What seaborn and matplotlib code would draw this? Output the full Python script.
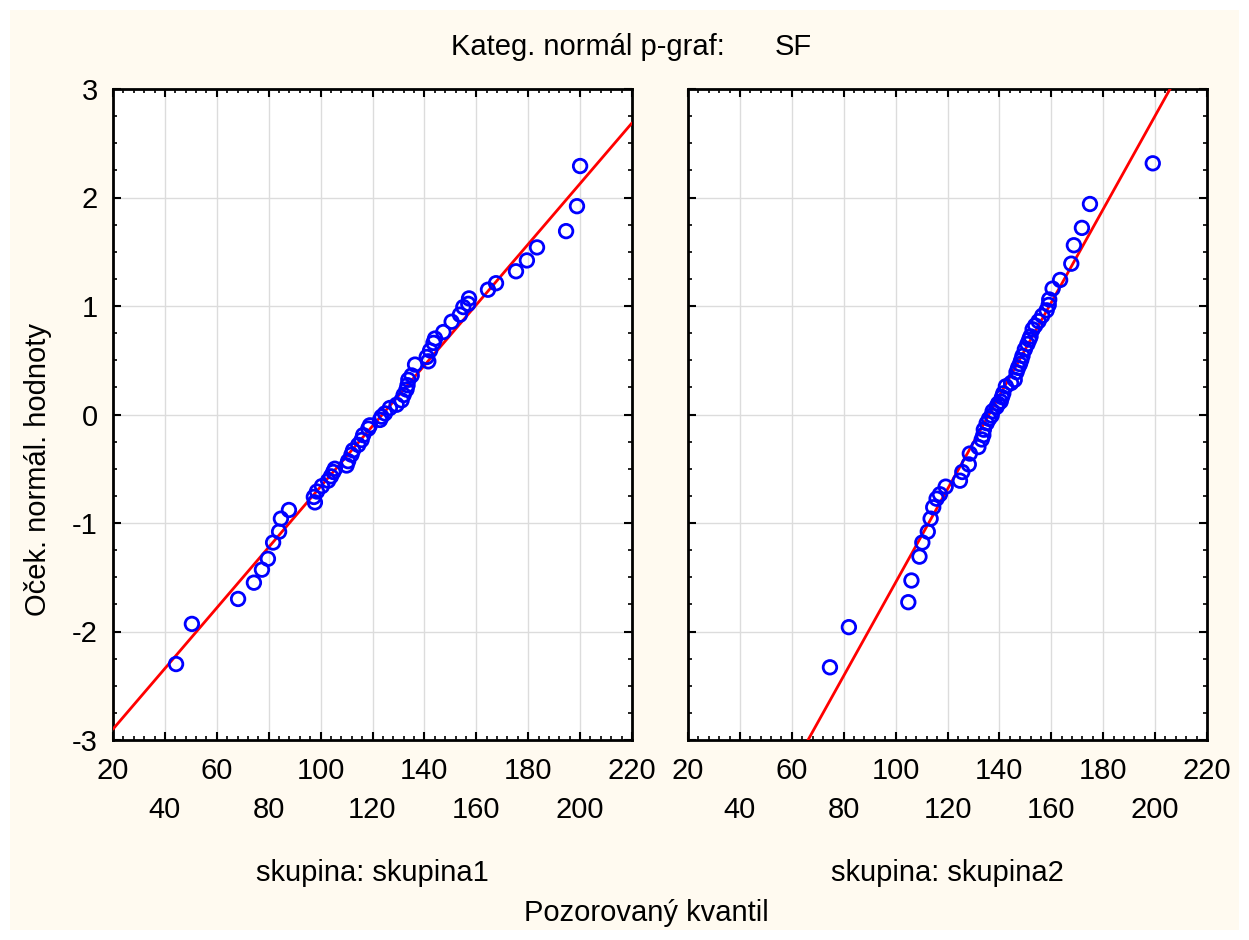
import numpy as np
import pandas as pd
import matplotlib
matplotlib.use("Agg")
import matplotlib.pyplot as plt
from matplotlib.patches import Rectangle
from matplotlib.ticker import MultipleLocator
import seaborn as sns

# ──────────────────────────────────────────────
# Data
# ──────────────────────────────────────────────
x_skupina1 = [44.3, 50.4, 68.2, 74.3, 77.4, 79.7, 81.7, 84.0, 84.7, 87.8,
              97.8, 97.4, 98.6, 100.5, 102.9, 104.0, 104.9, 105.5, 110.0, 110.6,
              111.9, 112.5, 114.5, 115.8, 116.4, 118.4, 119.0, 122.9, 123.5, 124.8,
              126.7, 129.3, 131.2, 132.0, 133.1, 133.5, 133.8, 135.1, 136.4, 141.5,
              140.9, 142.2, 143.5, 144.1, 147.3, 150.5, 153.7, 155.0, 156.9, 157.2,
              164.5, 167.6, 175.3, 179.5, 183.4, 194.6, 198.8, 200.0]
y_skupina1 = [-2.30, -1.93, -1.70, -1.55, -1.43, -1.33, -1.18, -1.08, -0.96, -0.88,
              -0.81, -0.76, -0.71, -0.66, -0.61, -0.57, -0.53, -0.50, -0.47, -0.43,
              -0.37, -0.33, -0.28, -0.235, -0.19, -0.13, -0.10, -0.05, -0.02, 0.01,
              0.06, 0.09, 0.13, 0.18, 0.23, 0.27, 0.32, 0.36, 0.46, 0.49,
              0.53, 0.59, 0.66, 0.70, 0.76, 0.855, 0.92, 0.99, 1.02, 1.07,
              1.15, 1.21, 1.32, 1.42, 1.54, 1.69, 1.92, 2.29]

x_skupina2 = [74.7, 82.0, 104.9, 106.1, 109.2, 110.3, 112.4, 113.5, 114.5,
              115.8, 117.1, 119.3, 124.8, 125.7, 128.2, 128.6,
              131.9, 133.2, 133.8, 134.0, 135.1, 136.0, 137.0, 137.4, 138.9, 139.5,
              140.5, 141.0, 141.5, 142.5, 144.5, 145.9, 146.6, 147.2, 147.9, 148.4,
              148.9, 149.8, 150.8, 151.5, 152.0, 152.8, 153.8, 155.1, 156.5, 158.2,
              159.0, 159.2, 160.5, 163.4, 167.7, 168.7, 171.8, 174.9, 199.1]
y_skupina2 = [-2.33, -1.96, -1.73, -1.53, -1.31, -1.18, -1.08, -0.96, -0.855,
              -0.776, -0.735, -0.665, -0.61, -0.53, -0.46, -0.36,
              -0.30, -0.23, -0.19, -0.14, -0.08, -0.04, -0.01, 0.03, 0.07, 0.10,
              0.12, 0.16, 0.195, 0.26, 0.29, 0.32, 0.39, 0.43, 0.465, 0.50,
              0.54, 0.60, 0.65, 0.69, 0.72, 0.785, 0.82, 0.86, 0.91, 0.96,
              1.01, 1.06, 1.16, 1.24, 1.39, 1.56, 1.72, 1.94, 2.315]

# fitted normal line of each group: mean and standard deviation
fit_mean = [123.8, 136.0]
fit_sd = [35.8, 23.25]

group_names = ["skupina: skupina1", "skupina: skupina2"]
x_ticks = [20, 40, 60, 80, 100, 120, 140, 160, 180, 200, 220]
y_ticks = [-3, -2, -1, 0, 1, 2, 3]

# ──────────────────────────────────────────────
# Style
# ──────────────────────────────────────────────
sns.set_style("ticks")
plt.rcParams["font.family"] = ["Liberation Sans", "DejaVu Sans"]
plt.rcParams["font.size"] = 21
plt.rcParams["text.color"] = "black"
plt.rcParams["xtick.color"] = "black"
plt.rcParams["ytick.color"] = "black"
plt.rcParams["xtick.labelcolor"] = "black"
plt.rcParams["ytick.labelcolor"] = "black"

W, H = 1249, 940
fig = plt.figure(figsize=(W / 100, H / 100), dpi=100, facecolor="white")
fig.patches.append(Rectangle((10 / W, 10 / H), 1 - 20 / W, 1 - 20 / H,
                             transform=fig.transFigure, facecolor="#fffaf0",
                             edgecolor="none", zorder=-10))

panels = [
    (x_skupina1, y_skupina1),
    (x_skupina2, y_skupina2),
]
lefts = [113, 688]

for i, (xs, ys) in enumerate(panels):
    ax = fig.add_axes([lefts[i] / W, 1 - 740 / H, 519 / W, 651 / H])
    ax.set_facecolor("white")
    df = pd.DataFrame({"x": xs, "y": ys})

    # fitted line over the whole x range
    line_x = np.array([x_ticks[0], x_ticks[-1]], dtype=float)
    line_df = pd.DataFrame({"x": line_x, "y": (line_x - fit_mean[i]) / fit_sd[i]})
    sns.lineplot(data=line_df, x="x", y="y", ax=ax, color="#ff0000", lw=2.0, zorder=3)

    sns.scatterplot(data=df, x="x", y="y", ax=ax, marker="o", s=95,
                    fc="none", ec="#0000ff", linewidth=2.0, zorder=4)

    ax.set_xlim(x_ticks[0], x_ticks[-1])
    ax.set_ylim(y_ticks[0], y_ticks[-1])
    ax.set_xticks(x_ticks)
    ax.set_yticks(y_ticks)
    ax.xaxis.set_minor_locator(MultipleLocator(4))
    ax.yaxis.set_minor_locator(MultipleLocator(0.25))
    ax.grid(True, which="major", color="#dcdcdc", lw=1.0, zorder=0)
    ax.set_axisbelow(True)

    ax.set_xticklabels([str(t) if k % 2 == 0 else "\n" + str(t)
                        for k, t in enumerate(x_ticks)])
    for lab in ax.get_xticklabels():
        lab.set_linespacing(1.5)
    if i == 0:
        ax.set_yticklabels([str(t) for t in y_ticks])
    else:
        ax.set_yticklabels([])

    ax.tick_params(which="both", direction="in", top=True, right=True,
                   color="black", labelsize=21)
    ax.tick_params(which="major", length=6, width=1.5)
    ax.tick_params(axis="x", which="major", pad=12)
    ax.tick_params(axis="y", which="major", pad=11)
    ax.tick_params(which="minor", length=3, width=1.2)
    for sp in ax.spines.values():
        sp.set_visible(True)
        sp.set_color("black")
        sp.set_linewidth(2)
    ax.set_xlabel("")
    ax.set_ylabel("")

    fig.text((lefts[i] + 259.5) / W, 1 - 873 / H, group_names[i],
             ha="center", va="center", fontsize=21)

fig.text(725 / W, 1 - 47 / H, "Kateg. normál p-graf:", ha="right", va="center", fontsize=21)
fig.text(775 / W, 1 - 47 / H, "SF", ha="left", va="center", fontsize=21)
fig.text(646 / W, 1 - 913 / H, "Pozorovaný kvantil", ha="center", va="center", fontsize=21)
fig.text(38 / W, 1 - 469 / H, "Oček. normál. hodnoty", ha="center", va="center",
         rotation=90, fontsize=21)

fig.savefig("out.png", dpi=100, facecolor=fig.get_facecolor())
